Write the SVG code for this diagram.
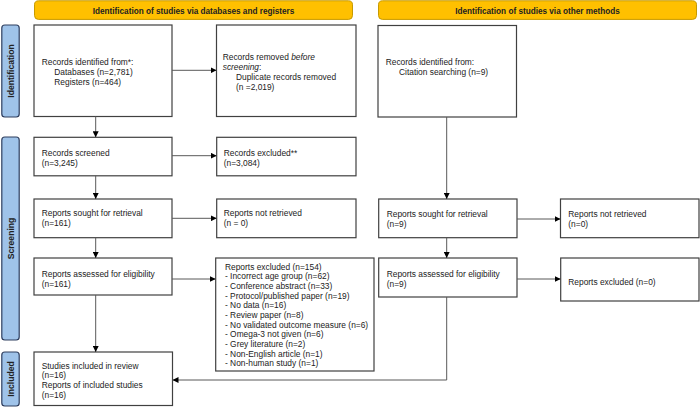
<svg xmlns="http://www.w3.org/2000/svg" width="700" height="408" viewBox="0 0 700 408">
<defs>
<style>
.box{fill:#fff;stroke:#404040;stroke-width:1.2}
.hdr{fill:#FFC000;stroke:#C79A00;stroke-width:1}
.side{fill:#9FC3E9;stroke:#2F3F5F;stroke-width:1.2}
.t{font-family:"Liberation Sans",Arial,sans-serif;font-size:8.4px;fill:#222}
.hb{font-family:"Liberation Sans",Arial,sans-serif;font-size:8.2px;font-weight:bold;fill:#222;text-anchor:middle}
.sb{font-family:"Liberation Sans",Arial,sans-serif;font-size:8.6px;font-weight:bold;fill:#222;text-anchor:middle}
.c{fill:none;stroke:#595959;stroke-width:1}
</style>
<marker id="ah" viewBox="0 0 10 10" refX="10" refY="5" markerWidth="6" markerHeight="6" markerUnits="userSpaceOnUse" orient="auto">
<path d="M0,0 L10,5 L0,10 z" fill="#000"/>
</marker>
</defs>
<rect width="700" height="408" fill="#fff"/>

<g id="header-left"><rect class="hdr" x="34.5" y="0.8" width="318" height="18.6" rx="4"/><text class="hb" x="193.5" y="13.5">Identification of studies via databases and registers</text></g>
<g id="header-right"><rect class="hdr" x="378.5" y="0.8" width="318" height="18.6" rx="4"/><text class="hb" x="537.5" y="13.5">Identification of studies via other methods</text></g>

<g id="side-identification"><rect class="side" x="1.8" y="25" width="17.4" height="92" rx="3"/><text class="sb" transform="translate(13.5,71) rotate(-90)">Identification</text></g>
<g id="side-screening"><rect class="side" x="1.8" y="137" width="17.4" height="203" rx="3"/><text class="sb" transform="translate(13.5,238.5) rotate(-90)">Screening</text></g>
<g id="side-included"><rect class="side" x="1.8" y="352" width="17.4" height="54" rx="3"/><text class="sb" transform="translate(13.5,379) rotate(-90)">Included</text></g>

<g id="records-identified"><rect class="box" x="34" y="25" width="138" height="91.5"/>
<text class="t" x="41.7" y="64.7">Records identified from*:</text>
<text class="t" x="54.3" y="74.7">Databases (n=2,781)</text>
<text class="t" x="54.3" y="84.7">Registers (n=464)</text></g>

<g id="records-removed"><rect class="box" x="216.5" y="25" width="139.5" height="91.5"/>
<text class="t" x="222.7" y="60">Records removed <tspan font-style="italic">before</tspan></text>
<text class="t" x="222.7" y="70" font-style="italic">screening<tspan font-style="normal">:</tspan></text>
<text class="t" x="236" y="80">Duplicate records removed</text>
<text class="t" x="236" y="90">(n =2,019)</text></g>

<g id="citation-identified"><rect class="box" x="378" y="25.5" width="138.5" height="91.5"/>
<text class="t" x="385.7" y="65.3">Records identified from:</text>
<text class="t" x="399" y="75.3">Citation searching (n=9)</text></g>

<g id="records-screened"><rect class="box" x="34" y="137.3" width="138" height="38.5"/>
<text class="t" x="41.7" y="156.3">Records screened</text>
<text class="t" x="41.7" y="166.3">(n=3,245)</text></g>

<g id="records-excluded"><rect class="box" x="216.7" y="137.3" width="139.3" height="38.5"/>
<text class="t" x="223.7" y="156.3">Records excluded**</text>
<text class="t" x="223.7" y="166.3">(n=3,084)</text></g>

<g id="reports-sought"><rect class="box" x="34" y="199" width="138" height="38.7"/>
<text class="t" x="41.7" y="216.3">Reports sought for retrieval</text>
<text class="t" x="41.7" y="226.3">(n=161)</text></g>

<g id="reports-not-retrieved"><rect class="box" x="216.7" y="199" width="139.3" height="38.7"/>
<text class="t" x="223.7" y="216.3">Reports not retrieved</text>
<text class="t" x="223.7" y="226.3">(n = 0)</text></g>

<g id="reports-assessed"><rect class="box" x="34" y="258" width="138" height="37"/>
<text class="t" x="41.7" y="277">Reports assessed for eligibility</text>
<text class="t" x="41.7" y="287">(n=161)</text></g>

<g id="reports-excluded"><rect class="box" x="215.7" y="258" width="158.3" height="113"/>
<text class="t" x="225" y="269.7">Reports excluded (n=154)</text>
<text class="t" x="225" y="279.4">- Incorrect age group (n=62)</text>
<text class="t" x="225" y="289">- Conference abstract (n=33)</text>
<text class="t" x="225" y="298.7">- Protocol/published paper (n=19)</text>
<text class="t" x="225" y="308.3">- No data (n=16)</text>
<text class="t" x="225" y="318">- Review paper (n=8)</text>
<text class="t" x="225" y="327.7">- No validated outcome measure (n=6)</text>
<text class="t" x="225" y="337.3">- Omega-3 not given (n=6)</text>
<text class="t" x="225" y="347">- Grey literature (n=2)</text>
<text class="t" x="225" y="356.6">- Non-English article (n=1)</text>
<text class="t" x="225" y="366.3">- Non-human study (n=1)</text></g>

<g id="studies-included"><rect class="box" x="34" y="352" width="138.5" height="53.5"/>
<text class="t" x="41.7" y="368.7">Studies included in review</text>
<text class="t" x="41.7" y="378.3">(n=16)</text>
<text class="t" x="41.7" y="388">Reports of included studies</text>
<text class="t" x="41.7" y="397.7">(n=16)</text></g>

<g id="other-reports-sought"><rect class="box" x="378.7" y="199" width="138.3" height="38.7"/>
<text class="t" x="386.7" y="217">Reports sought for retrieval</text>
<text class="t" x="386.7" y="227">(n=9)</text></g>

<g id="other-reports-not-retrieved"><rect class="box" x="560.5" y="199" width="138.5" height="38.7"/>
<text class="t" x="568.3" y="217">Reports not retrieved</text>
<text class="t" x="568.3" y="227">(n=0)</text></g>

<g id="other-reports-assessed"><rect class="box" x="378.7" y="258" width="138.3" height="39"/>
<text class="t" x="386.7" y="277">Reports assessed for eligibility</text>
<text class="t" x="386.7" y="287">(n=9)</text></g>

<g id="other-reports-excluded"><rect class="box" x="560.7" y="258" width="138.3" height="43"/>
<text class="t" x="568.3" y="285">Reports excluded (n=0)</text></g>

<g id="connectors">
<line class="c" x1="172" y1="70.3" x2="216.5" y2="70.3" marker-end="url(#ah)"/>
<line class="c" x1="95.7" y1="116.5" x2="95.7" y2="137.3" marker-end="url(#ah)"/>
<line class="c" x1="172" y1="155.7" x2="216.7" y2="155.7" marker-end="url(#ah)"/>
<line class="c" x1="95.7" y1="175.8" x2="95.7" y2="199" marker-end="url(#ah)"/>
<line class="c" x1="172" y1="218.3" x2="216.7" y2="218.3" marker-end="url(#ah)"/>
<line class="c" x1="95.7" y1="237.7" x2="95.7" y2="258" marker-end="url(#ah)"/>
<line class="c" x1="172" y1="279" x2="215.7" y2="279" marker-end="url(#ah)"/>
<line class="c" x1="95.7" y1="295" x2="95.7" y2="352" marker-end="url(#ah)"/>
<line class="c" x1="446.7" y1="117" x2="446.7" y2="199" marker-end="url(#ah)"/>
<line class="c" x1="517" y1="219" x2="560.5" y2="219" marker-end="url(#ah)"/>
<line class="c" x1="446.7" y1="237.7" x2="446.7" y2="258" marker-end="url(#ah)"/>
<line class="c" x1="517" y1="279" x2="560.7" y2="279" marker-end="url(#ah)"/>
<polyline class="c" points="446.7,297 446.7,380 172.5,380" marker-end="url(#ah)"/>
</g>
</svg>
